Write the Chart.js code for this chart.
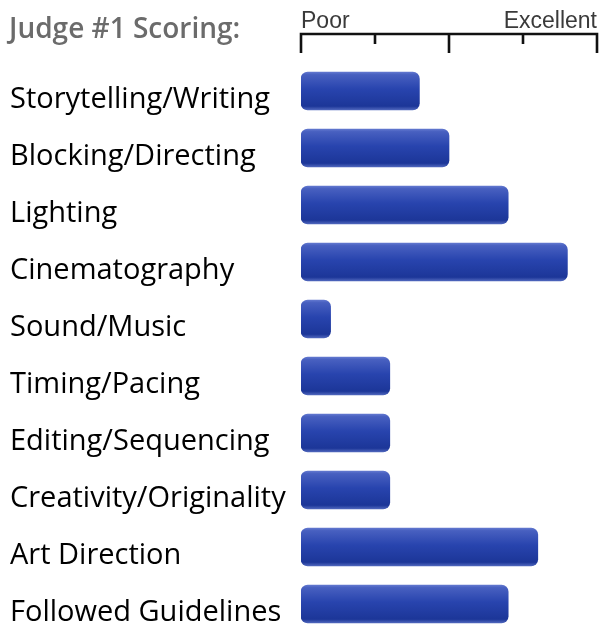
<!DOCTYPE html>
<html>
<head>
<meta charset="utf-8">
<title>Judge #1 Scoring</title>
<script src="https://cdn.jsdelivr.net/npm/chart.js@4/dist/chart.umd.min.js"></script>
<style>
    html, body { margin: 0; padding: 0; background: #fff; overflow: hidden; }
    #wrap { position: relative; width: 603px; height: 640px; }
    #title {
        position: absolute; left: 9px; top: 8px;
        font-family: 'Open Sans', sans-serif; font-weight: 600;
        font-size: 28px; color: #6b6b6b; white-space: nowrap;
    }
</style>
</head>
<body>
<div id="wrap">
    <canvas id="scores" width="603" height="640"></canvas>
    <div id="title">Judge #1 Scoring:</div>
</div>
<script>
// categories and scores (0 = Poor, 10 = Excellent)
const categories = [
    'Storytelling/Writing',
    'Blocking/Directing',
    'Lighting',
    'Cinematography',
    'Sound/Music',
    'Timing/Pacing',
    'Editing/Sequencing',
    'Creativity/Originality',
    'Art Direction',
    'Followed Guidelines'
];
const scores = [4, 5, 7, 9, 1, 3, 3, 3, 8, 7];

const scaleMin = 0;
const scaleMax = 10;
const scaleStep = 2.5;
const scaleLabels = { 0: 'Poor', 10: 'Excellent' };

// vertical glossy gradient for each bar, built from the y scale
function barGradient(context) {
    const chart = context.chart;
    const y = chart.scales.y;
    const c = y ? y.getPixelForValue(context.dataIndex) : NaN;
    if (!isFinite(c)) return '#2642ab';
    const h = 38;
    const g = chart.ctx.createLinearGradient(0, c - h / 2, 0, c + h / 2);
    g.addColorStop(0, '#6278cf');
    g.addColorStop(0.07, '#4860c0');
    g.addColorStop(0.45, '#2844ae');
    g.addColorStop(0.9, '#1c3698');
    g.addColorStop(1, '#5067bd');
    return g;
}

// ruler on top of the plot: line with long (major) and short (minor) ticks
const rulerPlugin = {
    id: 'ruler',
    afterDraw(chart) {
        const x = chart.scales.x;
        const ctx = chart.ctx;
        const top = chart.chartArea.top - 28.5;
        ctx.save();
        ctx.strokeStyle = '#111';
        ctx.lineWidth = 2.6;
        ctx.beginPath();
        ctx.moveTo(x.getPixelForValue(scaleMin) - 1.3, top);
        ctx.lineTo(x.getPixelForValue(scaleMax) + 1.3, top);
        x.ticks.forEach(t => {
            const px = x.getPixelForValue(t.value);
            const len = t.value % 5 === 0 ? 19 : 10;
            ctx.moveTo(px, top);
            ctx.lineTo(px, top + len);
        });
        ctx.stroke();
        ctx.restore();
    }
};

function noPadding(s) {
    s.paddingLeft = 0;
    s.paddingRight = 0;
    s.paddingTop = 0;
    s.paddingBottom = 0;
}

new Chart(document.getElementById('scores'), {
    type: 'bar',
    data: {
        labels: categories,
        datasets: [{
            data: scores,
            backgroundColor: barGradient,
            borderWidth: 0,
            borderRadius: 7,
            borderSkipped: false,
            barThickness: 38
        }]
    },
    options: {
        indexAxis: 'y',
        responsive: false,
        animation: false,
        layout: { padding: { left: 10, right: 6, top: 0, bottom: 7.5 } },
        plugins: {
            legend: { display: false },
            tooltip: { enabled: false }
        },
        scales: {
            x: {
                position: 'top',
                min: scaleMin,
                max: scaleMax,
                border: { display: false },
                grid: { display: false, drawTicks: false },
                ticks: {
                    stepSize: scaleStep,
                    autoSkip: false,
                    maxRotation: 0,
                    align: 'inner',
                    padding: 27,
                    color: '#3a3a3a',
                    font: { family: 'Liberation Sans', size: 23 },
                    callback: v => scaleLabels[v] || ''
                },
                afterFit: s => { s.height = 62.5; noPadding(s); }
            },
            y: {
                border: { display: false },
                grid: { display: false, drawTicks: false },
                ticks: {
                    crossAlign: 'far',
                    labelOffset: 8.5,
                    padding: 0,
                    color: '#000',
                    font: { family: 'Open Sans', size: 29 }
                },
                afterFit: s => { s.width = 291; noPadding(s); }
            }
        }
    },
    plugins: [rulerPlugin]
});
</script>
</body>
</html>
